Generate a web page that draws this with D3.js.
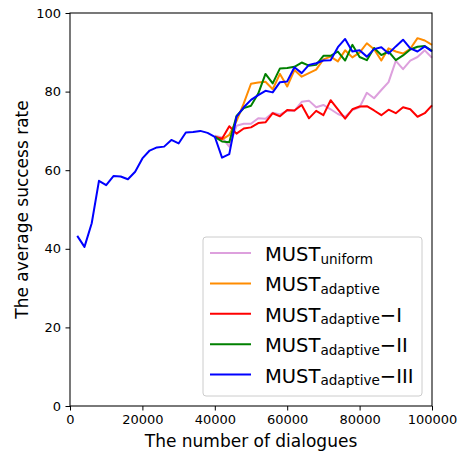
<!DOCTYPE html>
<html>
<head>
<meta charset="utf-8">
<script src="https://cdn.jsdelivr.net/npm/d3@7"></script>
<style>
    body { margin: 0; background: #fff; }
    svg { display: block; font-family: "DejaVu Sans", sans-serif; }
</style>
</head>
<body>
<svg id="LineChart"></svg>
<script>
// --------------------
//  data
// --------------------
// 対話数 (全体)
const dialoguesAll = [2000, 4000, 6000, 8000, 10000, 12000, 14000, 16000, 18000, 20000,
    22000, 24000, 26000, 28000, 30000, 32000, 34000, 36000, 38000, 40000,
    42000, 44000, 46000, 48000, 50000, 52000, 54000, 56000, 58000, 60000,
    62000, 64000, 66000, 68000, 70000, 72000, 74000, 76000, 78000, 80000,
    82000, 84000, 86000, 88000, 90000, 92000, 94000, 96000, 98000, 100000];
// 対話数 (40000以降)
const dialoguesLate = [40000, 42000, 44000, 46000, 48000, 50000, 52000, 54000, 56000, 58000,
    60000, 62000, 64000, 66000, 68000, 70000, 72000, 74000, 76000, 78000,
    80000, 82000, 84000, 86000, 88000, 90000, 92000, 94000, 96000, 98000, 100000];

const mustUniform = [68.8, 68.3, 66.0, 71.3, 71.8, 71.8, 73.2, 73.1, 74.6, 74.2,
    75.1, 75.1, 77.4, 77.7, 76.0, 76.6, 75.5, 74.3, 73.6, 75.3,
    76.0, 79.7, 78.3, 80.4, 82.4, 87.8, 85.7, 87.9, 88.8, 90.5, 88.6];
const mustAdaptive = [68.5, 67.8, 69.0, 72.5, 77.0, 82.0, 82.3, 82.5, 80.6, 84.5,
    81.3, 85.5, 83.8, 84.7, 85.6, 88.2, 88.9, 87.7, 90.5, 88.7,
    89.9, 92.3, 90.8, 87.9, 91.0, 90.2, 89.7, 90.9, 93.6, 93.0, 91.9];
const mustAdaptiveI = [68.5, 68.0, 71.2, 69.3, 70.6, 70.9, 72.0, 72.2, 74.5, 73.7,
    75.3, 75.2, 76.6, 73.2, 75.1, 74.0, 77.8, 75.5, 73.1, 75.5,
    76.2, 76.3, 75.2, 74.0, 75.4, 74.5, 76.0, 75.5, 73.6, 74.5, 76.5];
const mustAdaptiveII = [68.5, 67.3, 67.1, 73.8, 75.8, 76.4, 79.5, 84.5, 82.1, 85.9,
    86.0, 86.3, 87.4, 86.6, 86.8, 89.1, 89.1, 90.2, 87.9, 91.9,
    88.8, 88.0, 91.1, 89.3, 90.2, 88.0, 89.2, 90.7, 91.4, 91.6, 90.4];
const mustAdaptiveIII = [43.3, 40.5, 46.5, 57.3, 56.2, 58.5, 58.4, 57.7, 59.6, 63.0,
    65.0, 65.8, 66.0, 67.7, 66.8, 69.6, 69.7, 70.0, 69.5, 68.5,
    63.2, 64.1, 73.6, 76.0, 77.9, 79.1, 80.2, 79.8, 82.4, 82.6,
    86.2, 84.7, 86.8, 87.2, 87.9, 88.0, 91.3, 93.4, 90.2, 90.5,
    88.9, 90.8, 91.3, 89.7, 91.5, 93.2, 91.0, 90.2, 91.5, 90.2];

const xTicks = [0, 20000, 40000, 60000, 80000, 100000];
const yTicks = [0, 20, 40, 60, 80, 100];

// 凡例: ラベル (本体, 下付き, 後ろ)
const series = [
    {name: 'MUST', sub: 'uniform', suffix: '', color: 'plum', x: dialoguesLate, y: mustUniform},
    {name: 'MUST', sub: 'adaptive', suffix: '', color: 'darkorange', x: dialoguesLate, y: mustAdaptive},
    {name: 'MUST', sub: 'adaptive', suffix: '\u2212I', color: 'red', x: dialoguesLate, y: mustAdaptiveI},
    {name: 'MUST', sub: 'adaptive', suffix: '\u2212II', color: 'green', x: dialoguesLate, y: mustAdaptiveII},
    {name: 'MUST', sub: 'adaptive', suffix: '\u2212III', color: 'blue', x: dialoguesAll, y: mustAdaptiveIII},
];

// --------------------
//  functions
// --------------------
function createLineChart(selector, width, height) {
    const margin = {top: 13, right: 30, bottom: 45, left: 70};
    const innerW = width - margin.left - margin.right;
    const innerH = height - margin.top - margin.bottom;

    const svg = d3.select(selector)
        .attr('width', width)
        .attr('height', height);

    const g = svg.append('g')
        .attr('transform', `translate(${margin.left},${margin.top})`);

    const x = d3.scaleLinear().domain([0, 100000]).range([0, innerW]);
    const y = d3.scaleLinear().domain([0, 100]).range([innerH, 0]);

    // 折れ線
    const line = d3.line()
        .x(d => x(d[0]))
        .y(d => y(d[1]));

    g.selectAll('path.series')
        .data(series)
        .join('path')
        .attr('class', 'series')
        .attr('fill', 'none')
        .attr('stroke', d => d.color)
        .attr('stroke-width', 2)
        .attr('stroke-linejoin', 'round')
        .attr('d', d => line(d.x.map((v, i) => [v, d.y[i]])));

    // 軸
    const xAxis = g.append('g')
        .attr('transform', `translate(0,${innerH})`)
        .call(d3.axisBottom(x).tickValues(xTicks).tickFormat(d3.format('d'))
            .tickSize(4.5).tickPadding(4.5).tickSizeOuter(0));
    const yAxis = g.append('g')
        .call(d3.axisLeft(y).tickValues(yTicks)
            .tickSize(4.5).tickPadding(4.5).tickSizeOuter(0));

    [xAxis, yAxis].forEach(ax => {
        ax.select('.domain').remove();
        ax.selectAll('line').attr('stroke', '#000').attr('stroke-width', 1);
        ax.selectAll('text')
            .attr('fill', '#000')
            .attr('font-size', '13px')
            .attr('font-family', '"DejaVu Sans", sans-serif');
    });

    // 枠
    g.append('rect')
        .attr('x', 0)
        .attr('y', 0)
        .attr('width', innerW)
        .attr('height', innerH)
        .attr('fill', 'none')
        .attr('stroke', '#000')
        .attr('stroke-width', 1.05);

    // 軸ラベル
    svg.append('text')
        .attr('x', margin.left + innerW / 2)
        .attr('y', 446.5)
        .attr('text-anchor', 'middle')
        .attr('font-size', '17px')
        .text('The number of dialogues');

    svg.append('text')
        .attr('transform', `translate(28,${margin.top + innerH / 2}) rotate(-90)`)
        .attr('text-anchor', 'middle')
        .attr('font-size', '17px')
        .text('The average success rate');

    // 凡例
    const legW = 219, legH = 159;
    const legend = g.append('g')
        .attr('transform', `translate(${innerW - 10 - legW},${innerH - 10 - legH})`);

    legend.append('rect')
        .attr('width', legW)
        .attr('height', legH)
        .attr('rx', 3)
        .attr('fill', '#fff')
        .attr('fill-opacity', 0.8)
        .attr('stroke', '#cccccc')
        .attr('stroke-width', 1);

    const rowY = (d, i) => 24 + i * 30.4; // 各行のベースライン
    const rows = legend.selectAll('g.row')
        .data(series)
        .join('g')
        .attr('class', 'row')
        .attr('transform', (d, i) => `translate(0,${rowY(d, i)})`);

    rows.append('line')
        .attr('x1', 7)
        .attr('x2', 48)
        .attr('y1', -8)
        .attr('y2', -8)
        .attr('stroke', d => d.color)
        .attr('stroke-width', 2);

    const label = rows.append('text')
        .attr('x', 62)
        .attr('y', 0)
        .attr('font-size', '19.5px')
        .attr('fill', '#000');
    label.append('tspan').text(d => d.name);
    label.append('tspan')
        .attr('font-size', '13.6px')
        .attr('dy', 2.5)
        .text(d => d.sub);
    label.append('tspan')
        .attr('dy', -2.5)
        .text(d => d.suffix);
}

// --------------------
//  init
// --------------------
createLineChart('#LineChart', 462, 451);
</script>
</body>
</html>
